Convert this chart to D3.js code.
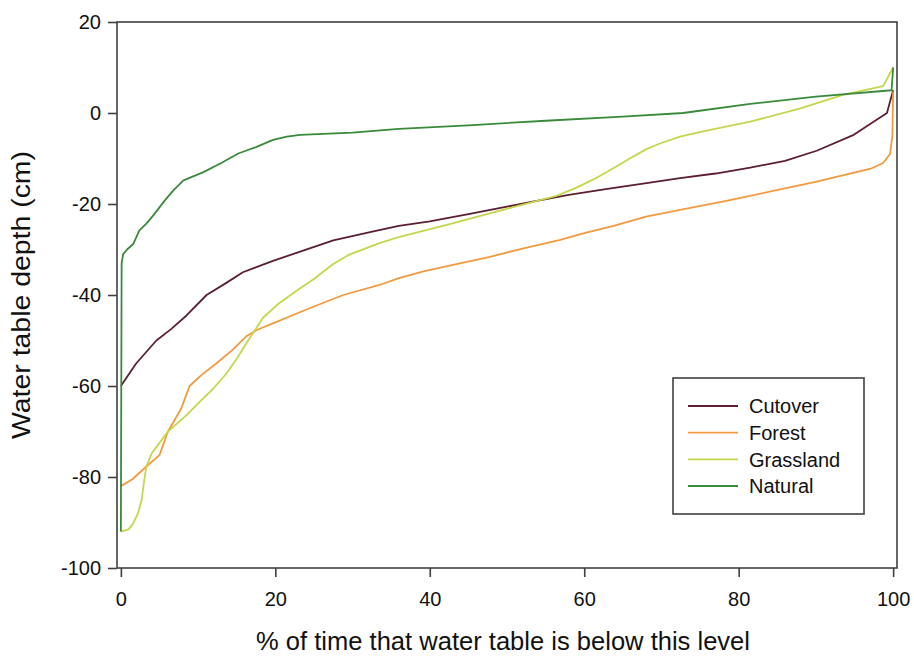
<!DOCTYPE html>
<html>
<head>
<meta charset="utf-8">
<script src="https://cdn.jsdelivr.net/npm/d3@7"></script>
<style>
  body { margin: 0; background: #fff; }
  svg { display: block; font-family: "Liberation Sans", Arial, sans-serif; }
</style>
</head>
<body>
<svg id="chart" width="914" height="657"></svg>
<script>
// ---- Data ----
const seriesNames = ["Cutover", "Forest", "Grassland", "Natural"];
const seriesColors = ["#5b1f30", "#f29a3e", "#c6d64a", "#3a8a3c"];

const cutover = [[0,-60],[2,-55],[4.6,-50],[6.5,-47.5],[8.5,-44.5],[11.1,-40],[13.5,-37.5],[15.8,-35],[19.7,-32.5],[23.5,-30.3],[27.5,-28],[32.7,-26],[36,-24.8],[40,-23.8],[45,-22.2],[50,-20.6],[53,-19.6],[58,-18],[63,-16.7],[68.5,-15.3],[72.4,-14.3],[77,-13.3],[81.5,-12],[86,-10.5],[90.1,-8.3],[94.9,-4.8],[99.2,0],[100,5]];

const forest = [[0,-82],[1.5,-80.5],[3.3,-77.7],[5,-75.2],[6.1,-70],[7.8,-65],[8.9,-60],[10.5,-57.5],[12.4,-55],[14.5,-52],[16.3,-49],[17.6,-47.7],[20,-46],[22.3,-44.4],[25.5,-42.2],[28.8,-40],[33.5,-37.8],[36,-36.3],[39.2,-34.8],[43,-33.4],[47.8,-31.6],[52,-29.8],[56.9,-27.9],[60,-26.4],[63.8,-24.8],[68,-22.8],[72.4,-21.3],[78.4,-19.3],[84,-17.3],[90.1,-15.1],[94.4,-13.3],[97,-12.3],[98.7,-11],[99.6,-9],[99.9,-5],[100,4.7]];

const grassland = [[0,-92],[1,-91.5],[1.6,-90.2],[2.2,-88],[2.7,-85],[3.0,-81],[3.3,-77.7],[4,-74.8],[5,-72.5],[6.1,-70],[8.5,-66.4],[10.2,-63.5],[12,-60.5],[13.7,-57.2],[15,-54],[16.3,-50.5],[18.4,-45],[20.5,-41.8],[22.8,-39],[25,-36.5],[27.5,-33.2],[29.5,-31.2],[31.8,-29.7],[33.5,-28.6],[36.1,-27.2],[42.2,-24.6],[50.8,-20.7],[56.4,-18.2],[59,-16.4],[61.2,-14.6],[63.5,-12.4],[65.9,-10],[68,-8],[69.8,-6.7],[72.4,-5.2],[76,-3.8],[81.5,-1.9],[88,1],[93.5,4],[98.7,5.9],[100,10]];

const natural = [[0,-92],[0.1,-33],[0.3,-31],[0.8,-30],[1.6,-28.8],[2.4,-25.8],[3.3,-24.3],[4.2,-22.5],[5.7,-19.2],[6.8,-17],[8.1,-14.8],[10.7,-13],[13,-11],[15.2,-8.9],[17.5,-7.5],[19.7,-5.9],[21.5,-5.2],[23.2,-4.8],[30,-4.3],[36,-3.5],[45,-2.7],[55,-1.7],[65,-0.8],[72.8,0],[81.5,2],[90,3.6],[99.8,5],[100,10]];

const xTicks = [0, 20, 40, 60, 80, 100];
const yTicks = [20, 0, -20, -40, -60, -80, -100];
const xTitle = "% of time that water table is below this level";
const yTitle = "Water table depth (cm)";

// ---- Layout ----
const svg = d3.select("#chart");
const L = 117, R = 897, T = 22, B = 568;
const axisColor = "#404040";

const x = d3.scaleLinear().domain([-0.5, 100.5]).range([L, R]);
const y = d3.scaleLinear().domain([-100, 20]).range([B, T]);

const fmt = d => String(d);

// axes
const xAxis = svg.append("g").attr("transform", `translate(0,${B})`)
  .call(d3.axisBottom(x).tickValues(xTicks).tickSize(9).tickPadding(15).tickFormat(fmt));
const yAxis = svg.append("g").attr("transform", `translate(${L},0)`)
  .call(d3.axisLeft(y).tickValues(yTicks).tickSize(9).tickPadding(7).tickFormat(fmt));
[xAxis, yAxis].forEach(g => {
  g.select(".domain").remove();
  g.selectAll("line").attr("stroke", axisColor).attr("stroke-width", 1.6);
  g.selectAll("text").attr("fill", "#111").style("font-size", "20px")
    .style("font-family", '"Liberation Sans", Arial, sans-serif');
});

// frame
svg.append("rect").attr("x", L).attr("y", T).attr("width", R - L).attr("height", B - T)
  .attr("fill", "none").attr("stroke", axisColor).attr("stroke-width", 1.6);

// series
const line = d3.line().x(d => x(d[0])).y(d => y(d[1]));
const allSeries = [cutover, forest, grassland, natural];
allSeries.forEach((s, i) => {
  svg.append("path").datum(s).attr("d", line)
    .attr("fill", "none").attr("stroke", seriesColors[i]).attr("stroke-width", 1.8)
    .attr("stroke-linejoin", "round");
});

// titles
svg.append("text").attr("x", (L + R) / 2 - 4).attr("y", 650)
  .attr("text-anchor", "middle").style("font-size", "25px").attr("fill", "#111")
  .attr("textLength", 494).attr("lengthAdjust", "spacingAndGlyphs")
  .text(xTitle);
svg.append("text").attr("transform", `translate(30,${(T + B) / 2}) rotate(-90)`)
  .attr("text-anchor", "middle").style("font-size", "25px").attr("fill", "#111")
  .attr("textLength", 288).attr("lengthAdjust", "spacingAndGlyphs")
  .text(yTitle);

// legend
const lg = svg.append("g");
lg.append("rect").attr("x", 673).attr("y", 378).attr("width", 191).attr("height", 136)
  .attr("fill", "#fff").attr("stroke", axisColor).attr("stroke-width", 1.6);
const rowY = d3.scalePoint().domain(seriesNames).range([406, 486]);
seriesNames.forEach((n, i) => {
  lg.append("line").attr("x1", 688).attr("x2", 738).attr("y1", rowY(n)).attr("y2", rowY(n))
    .attr("stroke", seriesColors[i]).attr("stroke-width", 1.8);
  lg.append("text").attr("x", 749).attr("y", rowY(n)).attr("dy", "0.36em")
    .style("font-size", "20px").attr("fill", "#111").text(n);
});
</script>
</body>
</html>
